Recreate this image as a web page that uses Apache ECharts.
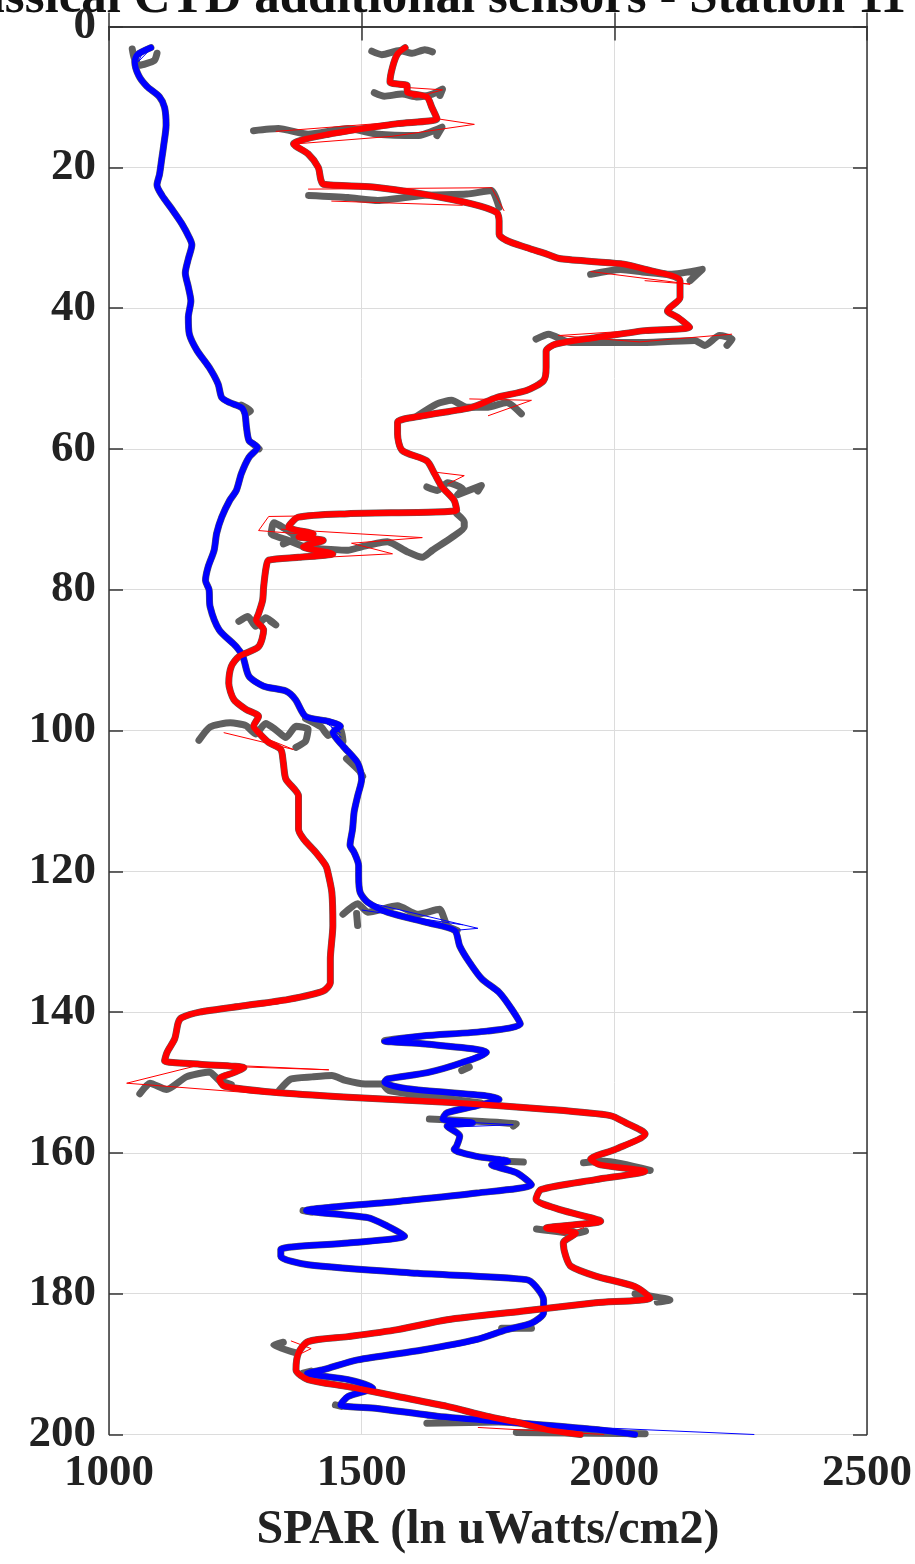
<!DOCTYPE html>
<html>
<head>
<meta charset="utf-8">
<script src="https://cdn.jsdelivr.net/npm/echarts@6/dist/echarts.min.js"></script>
<style>
html,body{margin:0;padding:0;background:#fff;}
#chart{width:915px;height:1564px;}
</style>
</head>
<body>
<div id="chart"></div>
<script>
// ---------- data ----------
const titleText = 'Classical CTD additional sensors - Station 11';
const xAxisName = 'SPAR (ln uWatts/cm2)';
const xTicks = [1000, 1500, 2000, 2500];
const yTicks = [0, 20, 40, 60, 80, 100, 120, 140, 160, 180, 200];

// red profile (thick)
const depthRed = [3.0,3.9,5.8,7.9,8.4,9.3,10,11.5,13.1,13.8,15.3,16.7,18.1,20,21.7,22.4,22.8,23.8,25.2,26.4,27.6,29.5,30.4,31.4,32.3,33,33.7,34.5,36.1,38.5,40.4,41.3,42.7,43.2,44.2,45.1,46.1,48.4,50.3,51.7,52.7,54.1,55.3,56.2,57.9,60.2,61.7,63.5,65.4,67.3,68.7,69.2,69.7,71.1,72.1,72.5,73,73.9,74.9,75.4,75.8,76.8,79.6,81.5,83.4,84.3,85.7,88.1,89.5,90.9,93.3,95.6,97,98,99.4,100.3,101.7,102.7,104.6,106.9,109.3,111.6,114,115.4,117.3,119.2,120.1,123,127.7,132.5,135.8,137,138.2,139.1,140,140.8,141.5,143.8,145.7,146.9,147.4,147.9,148.6,149.5,150.5,151.4,152.1,152.8,153.8,154.7,155.7,157.3,159.5,160.9,161.7,162.6,163.8,165.2,166.6,168.1,169.7,170.7,171.4,172.8,174.7,176.1,177.5,179,180.6,181.3,182.5,183.7,185.1,186.1,186.8,188.4,190.8,192.2,193.2,194.6,196,197.4,198.4,199.3,200];
const sparRed = [1586,1571,1561,1556,1590,1590,1629,1639,1649,1571,1434,1365,1394,1414,1419,1424,1522,1620,1718,1767,1772,1772,1787,1826,1865,1894,2012,2061,2130,2130,2105,2125,2149,2061,1963,1884,1865,1865,1860,1826,1767,1718,1620,1571,1571,1580,1629,1644,1659,1683,1688,1473,1375,1355,1404,1375,1424,1384,1443,1375,1316,1311,1306,1304,1296,1291,1306,1296,1257,1242,1237,1247,1271,1296,1286,1296,1316,1340,1345,1350,1375,1375,1375,1385,1409,1429,1433,1441,1443,1438,1438,1424,1355,1267,1179,1144,1137,1130,1115,1110,1179,1267,1247,1218,1228,1326,1473,1669,1865,1992,2022,2061,2002,1953,1973,2061,1963,1855,1845,1894,1973,1865,1924,1899,1904,1914,1963,2041,2071,1963,1816,1669,1571,1473,1394,1375,1370,1394,1473,1571,1669,1747,1816,1865,1933];

// blue profile (thick)
const depthBlue = [3.0,4,5,7,8.5,10,11.5,14,17,19,21,22.5,24,26,28,30,31,33,35,37,39,41.3,43.7,46,48.4,50.8,52.7,53.4,54.1,55,56.9,58.8,59.8,61.2,63.5,65.9,67.3,69.7,72,74.4,76.8,78.7,80,82.4,85.7,88.1,89.5,92.3,93.7,94.4,95.6,98,98.7,99.4,100.3,102.2,104.6,106.9,109.3,111.6,114,116.3,117.3,119.2,120.6,123,124.4,125.8,127.3,128.4,130.6,132.9,135.3,137.2,139.6,141.7,142.7,143.4,144.1,144.5,145.3,145.7,147.2,148.6,149.5,150,150.9,151.9,152.4,153.3,154.3,155.2,155.7,156.2,157.6,159,159.5,160.5,161.2,161.7,162.8,164.5,165.7,166.9,168.2,169.2,170.4,171.8,172.8,173.7,174.7,175.9,177.1,178,179,180.9,182.7,184.2,185.1,186.5,188,189.4,190.8,191.3,192.2,193.4,194.6,195.8,196.3,197.4,198.4,199.3,200];
const sparBlue = [1083,1056,1051,1059,1075,1100,1110,1113,1108,1104,1100,1095,1105,1125,1144,1159,1164,1157,1151,1157,1162,1157,1159,1174,1198,1216,1223,1238,1262,1269,1272,1277,1294,1277,1262,1252,1239,1223,1213,1208,1196,1191,1198,1200,1218,1252,1265,1277,1306,1350,1369,1389,1434,1458,1443,1463,1492,1500,1492,1485,1482,1477,1485,1494,1494,1497,1512,1551,1630,1684,1694,1713,1738,1772,1797,1814,1748,1620,1545,1620,1728,1747,1698,1630,1551,1545,1590,1747,1772,1728,1669,1660,1720,1669,1694,1688,1683,1728,1790,1757,1806,1836,1728,1571,1390,1512,1551,1585,1473,1340,1340,1394,1610,1826,1845,1860,1860,1836,1787,1728,1620,1492,1424,1392,1473,1522,1473,1458,1531,1649,1816,1963,2041];

// grey raw-data excursions (null separates pieces)
const greyDepth = [
  3.5,4.0,3.4,3.8,3.3,3.6,null,
  9.4,9.9,9.6,10.0,9.6,8.9,9.8,null,
  14.8,14.5,15.3,14.5,15.3,15.5,14.3,15.5,null,
  24.0,24.3,24.7,24.0,23.8,23.3,25.7,null,
  35.2,34.5,34.9,35.2,34.5,36.1,null,
  44.4,43.7,44.9,44.9,44.9,44.6,45.3,43.9,44.4,45.3,null,
  55.3,53.6,53.1,54.1,54.1,53.4,55.0,null,
  65.4,65.9,64.8,65.7,66.5,65.2,66.0,null,
  69.2,70.4,71.1,72.5,74.4,75.4,74.6,73.2,73.9,74.4,74.2,74.0,73.0,72.0,70.5,71.2,72.6,73.5,null,
  84.5,83.8,85.2,84.0,85.0,84.5,null,
  101.4,99.5,98.9,99.3,100.5,99.0,99.9,101.0,99.4,99.8,101.5,102.4,null,
  151.6,150.1,151.0,149.2,148.5,149.7,150.3,null,
  151.1,149.5,149.2,149.0,149.7,150.2,150.2,151.1,152.0,152.9,null,
  161.4,161.2,162.5,162.3,null,
  170.8,171.4,171.1,null,
  180.0,180.9,181.2,null,
  186.9,187.3,188.4,null,
  198.4,198.2,null,
  199.7,199.9,null,
  3.2,4.5,5.5,4.8,3.8,null,
  53.8,54.6,55.0,null,
  59.3,60.0,null,
  98.3,99.5,100.7,99.8,101.5,null,
  104.0,105.7,106.5,null,
  126.1,124.6,125.8,124.9,126.1,125.4,127.7,128.4,null,
  127.7,126.0,null,
  148.3,147.8,null,
  155.2,155.9,156.2,null,
  161.1,161.3,null,
  168.2,168.4,null,
  184.9,184.9,null,
  191.3,191.0,null,
  195.8,196.0
];
const greySpar = [
  1520,1540,1575,1600,1625,1640,null,
  1525,1545,1580,1610,1640,1660,1655,null,
  1286,1335,1394,1473,1532,1610,1659,1649,null,
  1395,1473,1532,1620,1708,1757,1772,null,
  1953,2012,2061,2110,2174,2150,null,
  1845,1870,1914,1963,2051,2159,2179,2208,2233,2223,null,
  1610,1649,1678,1708,1747,1787,1816,null,
  1629,1650,1670,1700,1690,1737,1730,null,
  1688,1703,1703,1680,1640,1620,1590,1551,1500,1473,1420,1390,1355,1321,1326,1345,1370,1345,null,
  1257,1275,1290,1310,1330,1320,null,
  1178,1200,1240,1271,1290,1310,1330,1350,1370,1394,1389,1370,null,
  1061,1081,1114,1153,1199,1218,1242,null,
  1337,1360,1402,1441,1468,1507,1540,1553,1638,1736,null,
  1939,1980,2071,2050,null,
  1846,1924,1943,null,
  2041,2110,2085,null,
  1345,1326,1370,null,
  1629,1796,null,
  1806,2061,null,
  1046,1050,1060,1090,1095,null,
  1262,1280,1270,null,
  1285,1297,null,
  1389,1420,1434,1458,1463,null,
  1470,1495,1502,null,
  1463,1492,1512,1571,1610,1654,1669,1689,null,
  1492,1490,null,
  1698,1713,null,
  1634,1806,1800,null,
  1760,1820,null,
  1384,1400,null,
  1777,1836,null,
  1384,1400,null,
  1448,1460
];

// thin red spikes
const thinRedDepth = [
  13.1,13.9,15.6,16.7,null,
  14.9,13.2,null,
  8.6,9.0,10.2,null,
  23.1,22.9,26.2,null,
  24.8,25.4,null,
  34.8,36.6,36.1,null,
  42.7,43.9,44.8,43.7,null,
  52.9,53.1,55.3,null,
  63.3,63.8,65.0,null,
  69.2,69.6,71.6,72.2,null,
  71.4,72.6,73.4,74.9,75.8,null,
  100.3,102.7,100.8,null,
  147.1,148.2,147.8,null,
  147.5,150.1,152.0,null,
  170.7,171.6,170.6,null,
  186.7,187.8,188.5,null,
  199.0,200.0
];
const thinRedSpar = [
  1649,1723,1560,1365,null,
  1330,1640,null,
  1575,1660,1600,null,
  1394,1757,1782,null,
  1440,1700,null,
  1953,2150,2060,null,
  2149,1889,2050,2233,null,
  1713,1836,1750,null,
  1645,1703,1670,null,
  1688,1316,1296,1400,null,
  1340,1620,1480,1561,1316,null,
  1227,1365,1300,null,
  1106,1435,1272,null,
  1180,1035,1376,null,
  1865,1900,1940,null,
  1360,1400,1380,null,
  1730,1980
];

// thin blue spikes
const thinBlueDepth = [
  124.4,128.1,128.4,null,
  125.5,127.6,null,
  98.5,100.3,99.6,101.0,null,
  198.5,200.0,null,
  3.2,5.0,3.0,null,
  155.5,156.0,156.3,null,
  143.9,144.4
];
const thinBlueSpar = [
  1512,1730,1684,null,
  1500,1700,null,
  1420,1458,1440,1460,null,
  1800,2277,null,
  1070,1058,1085,null,
  1670,1800,1690,null,
  1560,1600
];

// ---------- helpers ----------
function pairs(ds, vs) {
  const out = [];
  for (let i = 0; i < ds.length; i++) out.push([vs[i], ds[i]]);
  return out;
}
function pieces(ds, vs) {
  const out = [];
  let cur = [];
  for (let i = 0; i < ds.length; i++) {
    if (ds[i] === null || vs[i] === null) {
      if (cur.length > 1) out.push(cur);
      cur = [];
    } else {
      cur.push([vs[i], ds[i]]);
    }
  }
  if (cur.length > 1) out.push(cur);
  return out;
}

const GREY = '#5f5f5f', RED = '#ff0000', BLUE = '#0000ff';
const FONT = '"Liberation Serif", "Times New Roman", serif';

const series = [];
// grey raw data under the thick profiles
series.push({
  type: 'line', data: pairs(depthBlue, sparBlue), symbol: 'none', smooth: 0.25, silent: true,
  lineStyle: { color: GREY, width: 7, cap: 'round', join: 'round' }, z: 1
});
series.push({
  type: 'line', data: pairs(depthRed, sparRed), symbol: 'none', smooth: 0.25, silent: true,
  lineStyle: { color: GREY, width: 7, cap: 'round', join: 'round' }, z: 1
});
pieces(greyDepth, greySpar).forEach(p => series.push({
  type: 'line', data: p, symbol: 'none', silent: true, smooth: 0.2,
  lineStyle: { color: GREY, width: 7, cap: 'round', join: 'round' }, z: 2
}));
series.push({
  type: 'line', name: 'blue', data: pairs(depthBlue, sparBlue), symbol: 'none', smooth: 0.25,
  lineStyle: { color: BLUE, width: 6, cap: 'round', join: 'round' }, z: 3
});
pieces(thinBlueDepth, thinBlueSpar).forEach(p => series.push({
  type: 'line', data: p, symbol: 'none', silent: true,
  lineStyle: { color: BLUE, width: 1 }, z: 4
}));
series.push({
  type: 'line', name: 'red', data: pairs(depthRed, sparRed), symbol: 'none', smooth: 0.25,
  lineStyle: { color: RED, width: 6, cap: 'round', join: 'round' }, z: 5
});
pieces(thinRedDepth, thinRedSpar).forEach(p => series.push({
  type: 'line', data: p, symbol: 'none', silent: true,
  lineStyle: { color: RED, width: 1 }, z: 6
}));

const axisLineStyle = { color: '#333333', width: 1.5 };
const tickStyle = { show: true, inside: true, length: 14, lineStyle: { color: '#333333', width: 1.5 } };
const gridLine = { show: true, lineStyle: { color: '#dcdcdc', width: 1 } };
const labelStyle = { fontFamily: FONT, fontWeight: 'bold', fontSize: 45, color: '#222222' };

const xMin = xTicks[0], xMax = xTicks[xTicks.length - 1], xInt = xTicks[1] - xTicks[0];
const yMin = yTicks[0], yMax = yTicks[yTicks.length - 1], yInt = yTicks[1] - yTicks[0];

const chart = echarts.init(document.getElementById('chart'), null, { renderer: 'canvas' });
chart.setOption({
  animation: false,
  backgroundColor: '#ffffff',
  grid: { left: 109, right: 44, top: 26.5, bottom: 129.5, containLabel: false },
  graphic: [{
    type: 'text', right: 9, top: -27, silent: true,
    style: { text: titleText, font: 'bold 51px ' + FONT, fill: '#111111' }
  }],
  xAxis: [{
    type: 'value', position: 'bottom', min: xMin, max: xMax, interval: xInt,
    axisLine: { show: true, lineStyle: axisLineStyle },
    axisTick: tickStyle,
    splitLine: gridLine,
    axisLabel: Object.assign({ margin: 16, formatter: v => String(v) }, labelStyle),
    name: xAxisName, nameLocation: 'middle', nameGap: 72,
    nameTextStyle: { fontFamily: FONT, fontWeight: 'bold', fontSize: 48, color: '#222222' }
  }, {
    type: 'value', position: 'top', min: xMin, max: xMax, interval: xInt,
    axisLine: { show: true, lineStyle: axisLineStyle },
    axisTick: tickStyle, axisLabel: { show: false }, splitLine: { show: false }
  }],
  yAxis: [{
    type: 'value', position: 'left', inverse: true, min: yMin, max: yMax, interval: yInt,
    axisLine: { show: true, lineStyle: axisLineStyle },
    axisTick: tickStyle,
    splitLine: gridLine,
    axisLabel: Object.assign({ margin: 13, formatter: v => String(v) }, labelStyle)
  }, {
    type: 'value', position: 'right', inverse: true, min: yMin, max: yMax, interval: yInt,
    axisLine: { show: true, lineStyle: axisLineStyle },
    axisTick: tickStyle, axisLabel: { show: false }, splitLine: { show: false }
  }],
  series: series
});
</script>
</body>
</html>
